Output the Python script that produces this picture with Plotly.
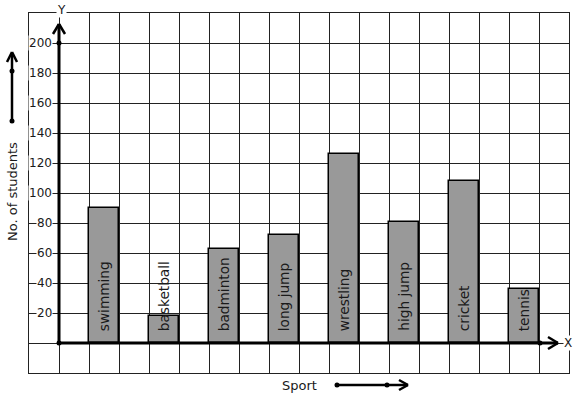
import plotly.graph_objects as go

sports = ["swimming", "basketball", "badminton", "long jump", "wrestling",
          "high jump", "cricket", "tennis"]
students = [90, 18, 63, 72, 126, 81, 108, 36]
y_ticks = [20, 40, 60, 80, 100, 120, 140, 160, 180, 200]

W, H = 577, 399
ML, MR, MT, MB = 29, 8, 13, 26
PW, PH = W - ML - MR, H - MT - MB
FONT = "DejaVu Sans"
INK = "#1a1a1a"


def fx(px):
    return (px - ML) / PW


def fy(py):
    return (H - MB - py) / PH


bar_x = [2 * i + 1.5 for i in range(len(sports))]

fig = go.Figure()
fig.add_trace(go.Bar(
    x=bar_x, y=students, width=1,
    marker=dict(color="#999999", line=dict(color="#000000", width=1.5)),
    hoverinfo="skip", showlegend=False,
))

shapes = []
annotations = []


def line(x0, y0, x1, y1, w=2.5):
    shapes.append(dict(type="line", xref="paper", yref="paper",
                       x0=fx(x0), y0=fy(y0), x1=fx(x1), y1=fy(y1),
                       line=dict(color="#000000", width=w), layer="above"))


def dot(cx, cy, r=2.5):
    shapes.append(dict(type="circle", xref="paper", yref="paper",
                       x0=fx(cx - r), x1=fx(cx + r), y0=fy(cy + r), y1=fy(cy - r),
                       fillcolor="#000000", line=dict(color="#000000", width=0),
                       layer="above"))


# main axes (thick) with chevron heads
line(59, 343, 59, 24, 3)
line(53, 34, 59, 24, 2.5)
line(65, 34, 59, 24, 2.5)
line(59, 343, 558, 343, 3)
line(548, 337, 558, 343, 2.5)
line(548, 349, 558, 343, 2.5)
dot(59, 43)
dot(59, 343)
dot(540, 343)

# side arrow next to y title
line(12, 121, 12, 53, 2.5)
line(7, 62, 12, 52, 2.5)
line(17, 62, 12, 52, 2.5)
dot(12, 71)
dot(12, 121)

# bottom arrow next to x title
line(337, 385, 408, 385, 2.5)
line(399, 380, 408, 385, 2.5)
line(399, 390, 408, 385, 2.5)
dot(337, 385)
dot(387, 385)

# tick labels
for v in y_ticks:
    annotations.append(dict(x=-0.2, y=v, xref="x", yref="y", text=str(v),
                            showarrow=False, xanchor="right", yanchor="middle",
                            bgcolor="#ffffff", borderpad=0,
                            font=dict(family=FONT, size=12, color=INK)))

# bar labels
for xc, name in zip(bar_x, sports):
    annotations.append(dict(x=xc, y=6.5, xref="x", yref="y", text=name,
                            textangle=-90, showarrow=False,
                            xanchor="center", yanchor="bottom",
                            font=dict(family=FONT, size=13.7, color=INK)))

# axis letters
annotations.append(dict(x=fx(61), y=fy(10), xref="paper", yref="paper", text="Y",
                        showarrow=False, xanchor="center", yanchor="middle",
                        bgcolor="#ffffff", borderpad=0,
                        font=dict(family=FONT, size=12, color=INK)))
annotations.append(dict(x=fx(568), y=fy(343), xref="paper", yref="paper", text="X",
                        showarrow=False, xanchor="center", yanchor="middle",
                        bgcolor="#ffffff", borderpad=0,
                        font=dict(family=FONT, size=12, color=INK)))
# titles
annotations.append(dict(x=fx(12), y=fy(192), xref="paper", yref="paper",
                        text="No. of students", textangle=-90, showarrow=False,
                        xanchor="center", yanchor="middle",
                        font=dict(family=FONT, size=13, color=INK)))
annotations.append(dict(x=fx(299), y=fy(385), xref="paper", yref="paper",
                        text="Sport", showarrow=False,
                        xanchor="center", yanchor="middle",
                        font=dict(family=FONT, size=13, color=INK)))

fig.update_layout(
    width=W, height=H,
    margin=dict(l=ML, r=MR, t=MT, b=MB, pad=0),
    paper_bgcolor="#ffffff", plot_bgcolor="#ffffff",
    xaxis=dict(range=[-1, 17], tick0=-1, dtick=1, showgrid=True,
               gridcolor="#222222", gridwidth=1, zeroline=False,
               showticklabels=False, ticks="", showline=True, mirror=True,
               linecolor="#222222", linewidth=1, fixedrange=True),
    yaxis=dict(range=[-20, 220], tick0=-20, dtick=20, showgrid=True,
               gridcolor="#222222", gridwidth=1, zeroline=False,
               showticklabels=False, ticks="", showline=True, mirror=True,
               linecolor="#222222", linewidth=1, fixedrange=True),
    shapes=shapes, annotations=annotations, bargap=0,
)

fig.write_html(
    "out.html",
    config={"displayModeBar": False},
    post_script="document.body.style.margin='0px';document.body.style.overflow='hidden';",
)
